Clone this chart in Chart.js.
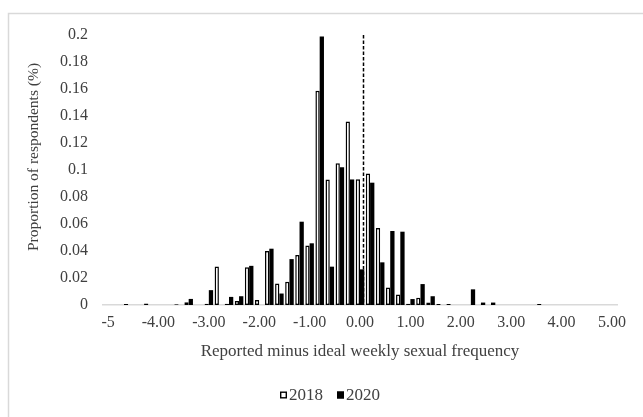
<!DOCTYPE html>
<html>
<head>
<meta charset="utf-8">
<script src="https://cdn.jsdelivr.net/npm/chart.js@4/dist/chart.umd.min.js"></script>
<style>
  html, body { margin: 0; padding: 0; background: #ffffff; }
  #c { display: block; }
</style>
</head>
<body>
<canvas id="c" width="643" height="417"></canvas>
<script>
// Categories: reported minus ideal weekly sexual frequency (bins of 0.2)
const categories = [
  '-5.0','-4.8','-4.6','-4.4','-4.2','-4.0','-3.8','-3.6','-3.4','-3.2',
  '-3.0','-2.8','-2.6','-2.4','-2.2','-2.0','-1.8','-1.6','-1.4','-1.2',
  '-1.0','-0.8','-0.6','-0.4','-0.2','0.0','0.2','0.4','0.6','0.8',
  '1.0','1.2','1.4','1.6','1.8','2.0','2.2','2.4','2.6','2.8',
  '3.0','3.2','3.4','3.6','3.8','4.0','4.2','4.4','4.6','4.8','5.0'
];

// Tick labels shown every 5th category
const xTickLabels = ['-5','-4.00','-3.00','-2.00','-1.00','0.00','1.00','2.00','3.00','4.00','5.00'];
const yTickValues = [0, 0.02, 0.04, 0.06, 0.08, 0.1, 0.12, 0.14, 0.16, 0.18, 0.2];

const values2018 = [
  0, 0, 0.0008, 0, 0.0012, 0, 0, 0.0006, 0.002, 0,
  0.001, 0.0285, 0.001, 0.003, 0.028, 0.0037, 0.040, 0.016, 0.0173, 0.037,
  0.044, 0.1587, 0.093, 0.105, 0.136, 0.0932, 0.0975, 0.057, 0.013, 0.0077,
  0.001, 0.0054, 0.0019, 0.0007, 0.0007, 0, 0, 0, 0, 0,
  0, 0, 0, 0.0007, 0, 0, 0, 0, 0, 0, 0
];

const values2020 = [
  0, 0, 0, 0, 0, 0, 0, 0, 0.0045, 0,
  0.011, 0, 0.006, 0.0065, 0.029, 0, 0.0417, 0.0085, 0.034, 0.0617,
  0.0457, 0.1988, 0.0284, 0.102, 0.093, 0.0264, 0.0906, 0.0316, 0.0548, 0.0543,
  0.0044, 0.0155, 0.0065, 0, 0, 0, 0.0116, 0.0018, 0.0018, 0,
  0, 0, 0, 0, 0, 0, 0, 0, 0, 0, 0
];

const seriesNames = ['2018', '2020'];
const xTitle = 'Reported minus ideal weekly sexual frequency';
const yTitle = 'Proportion of respondents (%)';
const refLineCategory = '0.0';

const SERIF = '"Liberation Serif", "Times New Roman", serif';
const TEXT = '#404040';

const framePlugin = {
  id: 'frame',
  beforeDraw(chart) {
    const ctx = chart.ctx;
    ctx.save();
    ctx.fillStyle = '#ffffff';
    ctx.fillRect(0, 0, chart.width, chart.height);
    ctx.strokeStyle = '#d9d9d9';
    ctx.lineWidth = 1.5;
    ctx.beginPath();
    ctx.moveTo(8.5, chart.height);
    ctx.lineTo(8.5, 13.5);
    ctx.lineTo(chart.width, 13.5);
    ctx.stroke();
    ctx.restore();
  }
};

const extrasPlugin = {
  id: 'extras',
  afterDatasetsDraw(chart) {
    const ctx = chart.ctx;
    const xs = chart.scales.x, ys = chart.scales.y;
    const idx = categories.indexOf(refLineCategory);
    const step = xs.getPixelForValue(idx + 1) - xs.getPixelForValue(idx);
    const x = Math.round(xs.getPixelForValue(idx) + step * 0.27) + 0.5;
    ctx.save();
    ctx.strokeStyle = '#000000';
    ctx.lineWidth = 1.5;
    ctx.setLineDash([3.5, 2]);
    ctx.beginPath();
    ctx.moveTo(x, ys.getPixelForValue(0.2));
    ctx.lineTo(x, ys.getPixelForValue(0));
    ctx.stroke();
    ctx.restore();
  },
  afterDraw(chart) {
    const ctx = chart.ctx;
    ctx.save();
    // Y axis title
    ctx.font = '15.5px ' + SERIF;
    ctx.fillStyle = TEXT;
    ctx.textAlign = 'center';
    ctx.textBaseline = 'middle';
    ctx.translate(34, 157);
    ctx.rotate(-Math.PI / 2);
    ctx.fillText(yTitle, 0, 0);
    ctx.restore();

    // Legend
    ctx.save();
    ctx.font = '17px ' + SERIF;
    ctx.textBaseline = 'middle';
    ctx.textAlign = 'left';
    const box = 7, gap = 2, itemGap = 14;
    const ds = chart.data.datasets;
    const widths = ds.map(d => box + gap + ctx.measureText(d.label).width);
    const total = widths.reduce((a, b) => a + b, 0) + itemGap * (ds.length - 1);
    let x = 330 - total / 2;
    const y = 395;
    ds.forEach((d, i) => {
      ctx.fillStyle = d.backgroundColor;
      ctx.fillRect(x, y - box / 2, box, box);
      ctx.strokeStyle = d.borderColor;
      ctx.lineWidth = 1.4;
      ctx.strokeRect(x + 0.7, y - box / 2 + 0.7, box - 1.4, box - 1.4);
      ctx.fillStyle = TEXT;
      ctx.fillText(d.label, x + box + gap, y + 1);
      x += widths[i] + itemGap;
    });
    ctx.restore();
  }
};

new Chart(document.getElementById('c'), {
  type: 'bar',
  data: {
    labels: categories,
    datasets: [
      {
        label: seriesNames[0],
        data: values2018,
        backgroundColor: '#ffffff',
        borderColor: '#000000',
        borderWidth: 1.5,
        borderSkipped: false,
        categoryPercentage: 0.85,
        barPercentage: 1.0
      },
      {
        label: seriesNames[1],
        data: values2020,
        backgroundColor: '#000000',
        borderColor: '#000000',
        borderWidth: 0,
        borderSkipped: false,
        categoryPercentage: 0.85,
        barPercentage: 1.0
      }
    ]
  },
  options: {
    responsive: false,
    animation: false,
    devicePixelRatio: 1,
    layout: { padding: { left: 10, right: 26, top: 35, bottom: 52 } },
    plugins: {
      legend: { display: false },
      tooltip: { enabled: false }
    },
    scales: {
      x: {
        grid: { display: false, drawTicks: false },
        border: { display: true, color: '#d9d9d9', width: 1.5 },
        ticks: {
          autoSkip: false,
          maxRotation: 0,
          minRotation: 0,
          padding: 8,
          color: TEXT,
          font: { family: SERIF, size: 16 },
          callback: (v, i) => (i % 5 === 0 ? xTickLabels[i / 5] : '')
        },
        title: {
          display: true,
          text: xTitle,
          color: TEXT,
          font: { family: SERIF, size: 17 },
          padding: { top: 0, bottom: 3 }
        },
        afterFit(scale) { scale.height = 60; }
      },
      y: {
        min: 0,
        max: 0.2,
        grid: { display: false, drawTicks: false },
        border: { display: false },
        afterBuildTicks(scale) { scale.ticks = yTickValues.map(v => ({ value: v })); },
        ticks: {
          padding: 15,
          color: TEXT,
          font: { family: SERIF, size: 16 },
          callback: (v) => String(+Number(v).toFixed(2))
        },
        afterFit(scale) { scale.width = 93; }
      }
    }
  },
  plugins: [framePlugin, extrasPlugin]
});
</script>
</body>
</html>
